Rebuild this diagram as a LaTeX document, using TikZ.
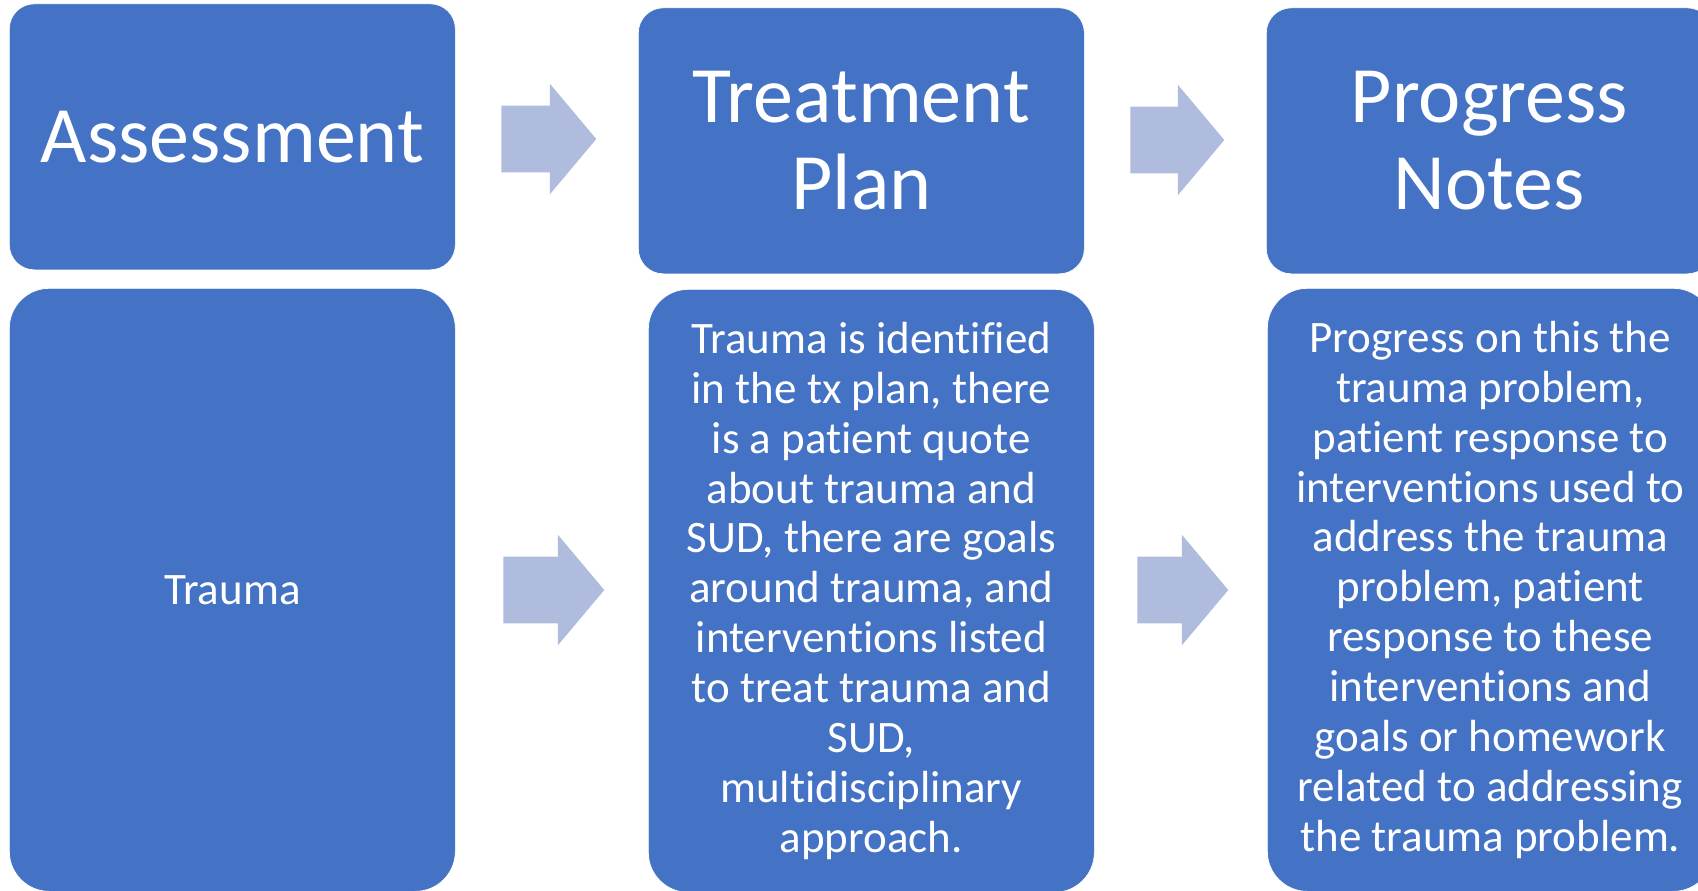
\documentclass[tikz,border=0pt]{standalone}
\usepackage{fontspec}
\setmainfont{Carlito}[RawFeature={-liga;-clig;-dlig;-calt;-ccmp}]
\usetikzlibrary{shapes.arrows}

\definecolor{boxblue}{RGB}{68,114,196}
\definecolor{arrowblue}{RGB}{175,188,222}

\begin{document}
\begin{tikzpicture}[x=0.75pt,y=-0.75pt,
    head/.style={fill=boxblue,draw=white,line width=0.5pt,rounded corners=18.75pt,
      minimum width=334.5pt,minimum height=199.5pt,anchor=north west,
      text=white,align=center,font=\fontsize{60}{65.25}\selectfont},
    body/.style={fill=boxblue,draw=white,line width=0.5pt,rounded corners=30pt,
      minimum width=334.5pt,minimum height=452.25pt,anchor=north west,
      text=white,align=center,font=\fontsize{33.75}{37.4}\selectfont},
    blockarrow/.style={shape=single arrow,fill=arrowblue,inner xsep=0pt,
      inner ysep=24.75pt,single arrow head extend=16.5pt,
      single arrow tip angle=100,anchor=tail}]
          \useasboundingbox (0,0) rectangle (1698,890);
          \clip (0,0) rectangle (1698,890);
          % top row
          \node[head] (assess) at (9,3.5) {Assessment};
          \node[head] (plan) at (638,7.5) {Treatment\\Plan};
          \node[head] (notes) at (1266,7.5) {Progress\\Notes};
          % bottom row
          \node[body] (trauma) at (9,288) {Trauma};
          \node[body] (plantext) at (648,289) {Trauma is identified\\
            in the tx plan, there\\
            is a patient quote\\
            about trauma and\\
            SUD, there are goals\\
            around trauma, and\\
            interventions listed\\
            to treat trauma and\\
            SUD,\\
            multidisciplinary\\
            approach.};
          \node[body] (notestext) at (1267,288) {Progress on this the\\
            trauma problem,\\
            patient response to\\
            interventions used to\\
            address the trauma\\
            problem, patient\\
            response to these\\
            interventions and\\
            goals or homework\\
            related to addressing\\
            the trauma problem.};
          % block arrows
          \node[blockarrow,minimum height=71.25pt] (arrA) at (501,139) {};
          \node[blockarrow,minimum height=70.5pt] (arrB) at (1130,140) {};
          \node[blockarrow,minimum height=75.75pt] (arrC) at (503,590) {};
          \node[blockarrow,minimum height=68.25pt] (arrD) at (1137,590) {};
        \end{tikzpicture}
\end{document}
